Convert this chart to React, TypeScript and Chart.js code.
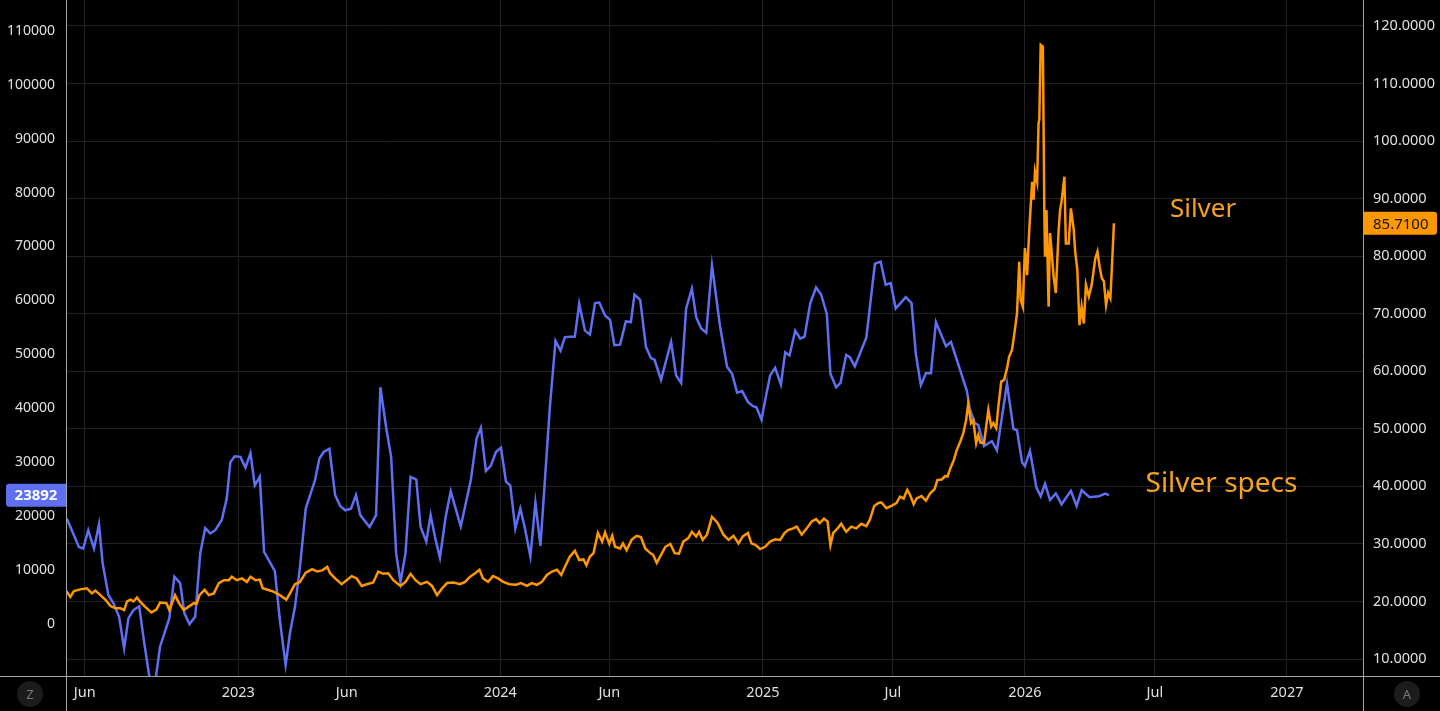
import React, { useEffect, useRef } from 'react';
import { Chart, registerables } from 'chart.js';

Chart.register(...registerables);

// ---- Data ----
const specDates = [
  '2022-05-03','2022-05-08','2022-05-24','2022-05-30','2022-06-06','2022-06-14','2022-06-21','2022-06-26',
  '2022-07-04','2022-07-11','2022-07-19','2022-07-26','2022-08-01','2022-08-08','2022-08-16','2022-08-23',
  '2022-09-04','2022-09-14','2022-09-27','2022-10-04','2022-10-12','2022-10-18','2022-10-25','2022-11-02',
  '2022-11-09','2022-11-16','2022-11-23','2022-11-30','2022-12-09','2022-12-16','2022-12-21','2022-12-27',
  '2023-01-04','2023-01-11','2023-01-18','2023-01-24','2023-01-31','2023-02-06','2023-02-14','2023-02-21',
  '2023-02-28','2023-03-08','2023-03-14','2023-03-21','2023-03-28','2023-04-05','2023-04-18','2023-04-24',
  '2023-04-30','2023-05-08','2023-05-16','2023-05-23','2023-05-30','2023-06-07','2023-06-14','2023-06-20',
  '2023-07-03','2023-07-12','2023-07-18','2023-07-26','2023-08-02','2023-08-09','2023-08-15','2023-08-22',
  '2023-08-29','2023-09-06','2023-09-12','2023-09-20','2023-09-26','2023-10-02','2023-10-09','2023-10-17',
  '2023-10-24','2023-11-07','2023-11-21','2023-11-29','2023-12-05','2023-12-12','2023-12-19','2023-12-26',
  '2024-01-02','2024-01-09','2024-01-15','2024-01-22','2024-01-29','2024-02-04','2024-02-12','2024-02-19',
  '2024-02-26','2024-03-10','2024-03-18','2024-03-25','2024-03-31','2024-04-14','2024-04-20','2024-04-28',
  '2024-05-05','2024-05-12','2024-05-18','2024-05-26','2024-06-02','2024-06-08','2024-06-16','2024-06-24',
  '2024-07-01','2024-07-06','2024-07-14','2024-07-22','2024-07-29','2024-08-03','2024-08-12','2024-08-26',
  '2024-09-02','2024-09-09','2024-09-16','2024-09-24','2024-09-30','2024-10-07','2024-10-14','2024-10-22',
  '2024-11-02','2024-11-12','2024-11-19','2024-11-26','2024-12-03','2024-12-11','2024-12-18','2024-12-23',
  '2024-12-30','2025-01-05','2025-01-11','2025-01-18','2025-01-26','2025-02-01','2025-02-07','2025-02-15',
  '2025-02-22','2025-02-28','2025-03-08','2025-03-16','2025-03-23','2025-03-31','2025-04-05','2025-04-13',
  '2025-04-19','2025-04-27','2025-05-02','2025-05-09','2025-05-25','2025-06-06','2025-06-14','2025-06-21',
  '2025-06-28','2025-07-05','2025-07-19','2025-07-27','2025-08-02','2025-08-09','2025-08-16','2025-08-23',
  '2025-08-30','2025-09-13','2025-09-20','2025-10-12','2025-10-16','2025-10-23','2025-10-28','2025-11-05',
  '2025-11-16','2025-11-23','2025-12-07','2025-12-16','2025-12-21','2025-12-28','2026-01-01','2026-01-08',
  '2026-01-17','2026-01-23','2026-01-29','2026-02-05','2026-02-13','2026-02-21','2026-03-06','2026-03-14',
  '2026-03-21','2026-04-01','2026-04-14','2026-04-23','2026-04-28',
];
const specValues = [
  20000, 19300, 14300, 14000, 17400, 14000, 18500, 11300,
  5400, 3900, 1350, -4500, 1100, 2600, 3300, -3500,
  -14000, -4200, 1100, 8800, 7600, 2000, 0, 1350,
  13100, 17800, 16800, 17400, 19300, 23300, 30000, 31100,
  31000, 29000, 31700, 25700, 27300, 13400, 11500, 9800,
  700, -7600, -1700, 3200, 10600, 21400, 26700, 30700,
  31900, 32500, 23900, 21900, 21100, 21400, 23900, 20200,
  18000, 20200, 43900, 36500, 31000, 13100, 7800, 13100,
  27300, 26800, 18000, 15300, 20200, 16200, 12300, 19900,
  24600, 18100, 26700, 34400, 36400, 28400, 29400, 31900,
  32700, 26400, 25700, 17700, 21400, 18000, 12500, 22500,
  14500, 40000, 52500, 50700, 53200, 53300, 59400, 54400,
  53700, 59500, 59600, 57200, 56400, 51700, 51800, 56100,
  56000, 61100, 60100, 51400, 49300, 49000, 45300, 52300,
  46100, 44700, 58500, 62200, 56900, 54800, 54000, 66500,
  55400, 47700, 46400, 42900, 43200, 41200, 40400, 40200,
  37900, 42100, 46100, 47500, 44400, 50400, 49800, 54400,
  52900, 53300, 59500, 62400, 61100, 57500, 46400, 43900,
  44700, 49900, 49500, 47800, 53100, 66800, 67200, 62900,
  63200, 58500, 60600, 59500, 50100, 44300, 46500, 46500,
  56000, 51500, 52300, 43300, 40000, 37300, 36900, 33000,
  33900, 32200, 44600, 36200, 35900, 30000, 29300, 32100,
  25300, 23700, 26000, 23000, 24200, 22200, 24700, 21900,
  24800, 23500, 23700, 24200, 23892,
];

const silverDates = [
  '2022-05-03','2022-05-07','2022-05-12','2022-05-17','2022-05-26','2022-06-04','2022-06-11','2022-06-16',
  '2022-06-23','2022-06-30','2022-07-07','2022-07-14','2022-07-21','2022-07-26','2022-07-30','2022-08-04',
  '2022-08-08','2022-08-13','2022-08-17','2022-08-24','2022-09-02','2022-09-09','2022-09-14','2022-09-23',
  '2022-09-27','2022-10-05','2022-10-10','2022-10-17','2022-10-24','2022-10-31','2022-11-04','2022-11-08',
  '2022-11-15','2022-11-21','2022-11-28','2022-12-05','2022-12-12','2022-12-19','2022-12-23','2022-12-30',
  '2023-01-06','2023-01-13','2023-01-18','2023-01-25','2023-01-31','2023-02-04','2023-02-12','2023-02-19',
  '2023-02-28','2023-03-09','2023-03-14','2023-03-21','2023-03-28','2023-04-05','2023-04-14','2023-04-21',
  '2023-04-28','2023-05-05','2023-05-09','2023-05-16','2023-05-25','2023-06-01','2023-06-08','2023-06-15',
  '2023-06-22','2023-06-29','2023-07-08','2023-07-15','2023-07-22','2023-07-29','2023-08-05','2023-08-15',
  '2023-08-22','2023-08-29','2023-09-05','2023-09-12','2023-09-21','2023-09-28','2023-10-05','2023-10-12',
  '2023-10-19','2023-10-28','2023-11-06','2023-11-13','2023-11-20','2023-11-27','2023-12-03','2023-12-08',
  '2023-12-15','2023-12-22','2023-12-29','2024-01-05','2024-01-14','2024-01-23','2024-01-30','2024-02-07',
  '2024-02-14','2024-02-21','2024-02-28','2024-03-06','2024-03-13','2024-03-20','2024-03-26','2024-03-31',
  '2024-04-07','2024-04-14','2024-04-20','2024-04-26','2024-04-30','2024-05-05','2024-05-10','2024-05-16',
  '2024-05-22','2024-05-26','2024-06-01','2024-06-05','2024-06-09','2024-06-16','2024-06-20','2024-06-25',
  '2024-07-02','2024-07-09','2024-07-15','2024-07-21','2024-07-28','2024-08-01','2024-08-06','2024-08-12',
  '2024-08-18','2024-08-25','2024-08-31','2024-09-06','2024-09-12','2024-09-19','2024-09-24','2024-09-30',
  '2024-10-04','2024-10-09','2024-10-15','2024-10-22','2024-10-26','2024-10-30','2024-11-07','2024-11-14',
  '2024-11-21','2024-11-28','2024-12-04','2024-12-11','2024-12-16','2024-12-22','2024-12-28','2025-01-04',
  '2025-01-11','2025-01-18','2025-01-25','2025-01-31','2025-02-05','2025-02-12','2025-02-17','2025-02-24',
  '2025-03-03','2025-03-10','2025-03-16','2025-03-21','2025-03-27','2025-04-01','2025-04-05','2025-04-09',
  '2025-04-15','2025-04-20','2025-04-27','2025-05-04','2025-05-11','2025-05-18','2025-05-25','2025-05-30',
  '2025-06-05','2025-06-11','2025-06-15','2025-06-22','2025-06-29','2025-07-06','2025-07-11','2025-07-16',
  '2025-07-21','2025-07-25','2025-07-30','2025-08-03','2025-08-10','2025-08-16','2025-08-22','2025-08-28',
  '2025-09-01','2025-09-07','2025-09-12','2025-09-15','2025-09-19','2025-09-24','2025-09-28','2025-10-03',
  '2025-10-07','2025-10-11','2025-10-14','2025-10-18','2025-10-21','2025-10-25','2025-10-28','2025-10-31',
  '2025-11-05','2025-11-08','2025-11-11','2025-11-15','2025-11-18','2025-11-22','2025-11-25','2025-11-29',
  '2025-12-03','2025-12-07','2025-12-10','2025-12-14','2025-12-17','2025-12-21','2025-12-24','2025-12-26',
  '2025-12-29','2026-01-01','2026-01-04','2026-01-07','2026-01-11','2026-01-13','2026-01-15','2026-01-18',
  '2026-01-20','2026-01-21','2026-01-23','2026-01-26','2026-01-28','2026-01-29','2026-01-31','2026-02-03',
  '2026-02-05','2026-02-07','2026-02-10','2026-02-13','2026-02-17','2026-02-19','2026-02-21','2026-02-25',
  '2026-02-27','2026-03-03','2026-03-06','2026-03-10','2026-03-12','2026-03-15','2026-03-18','2026-03-21',
  '2026-03-24','2026-03-27','2026-03-31','2026-04-04','2026-04-09','2026-04-12','2026-04-15','2026-04-18',
  '2026-04-21','2026-04-24','2026-04-27','2026-04-30','2026-05-02','2026-05-05',
];
const silverValues = [
  22.0, 21.7, 20.8, 21.8, 22.1, 22.3, 21.4, 21.9,
  21.1, 20.3, 19.2, 18.8, 18.8, 18.5, 20.0, 20.3,
  20.0, 20.7, 20.0, 19.1, 18.1, 18.6, 19.8, 19.7,
  18.5, 21.1, 19.8, 18.5, 19.1, 19.7, 19.6, 21.1,
  22.0, 21.1, 21.4, 23.2, 23.7, 23.7, 24.3, 23.7,
  24.0, 23.4, 24.3, 23.7, 23.8, 22.3, 22.0, 21.7,
  21.1, 20.3, 21.4, 23.0, 23.4, 25.0, 25.6, 25.2,
  25.4, 26.0, 24.9, 24.0, 23.0, 23.7, 24.4, 24.0,
  22.7, 23.0, 23.3, 25.2, 24.8, 24.9, 23.7, 22.7,
  23.4, 24.8, 23.7, 23.0, 23.4, 22.7, 21.1, 22.3,
  23.2, 23.3, 23.0, 23.4, 24.3, 24.9, 25.5, 24.0,
  23.4, 24.4, 24.0, 23.4, 23.0, 22.9, 23.2, 22.7,
  23.2, 22.9, 23.4, 24.6, 25.2, 25.5, 24.6, 26.0,
  27.8, 28.8, 27.2, 27.3, 26.3, 27.8, 28.4, 31.9,
  30.4, 32.0, 30.0, 31.4, 29.5, 29.2, 30.1, 28.9,
  30.7, 31.4, 31.2, 29.2, 28.4, 28.1, 26.7, 28.1,
  29.5, 30.0, 28.4, 28.3, 30.4, 31.0, 32.1, 31.3,
  32.1, 30.7, 31.6, 34.7, 34.2, 33.6, 31.6, 30.7,
  31.4, 30.1, 31.3, 31.9, 30.1, 29.8, 29.1, 29.5,
  30.4, 30.8, 30.7, 31.9, 32.4, 32.7, 33.0, 31.6,
  32.7, 33.9, 34.3, 33.6, 34.4, 33.9, 29.8, 31.9,
  32.7, 33.5, 32.1, 33.0, 32.7, 33.5, 33.1, 34.2,
  36.6, 37.1, 37.2, 36.2, 36.6, 37.1, 38.2, 37.9,
  39.4, 38.5, 36.9, 37.9, 38.3, 37.5, 38.8, 39.5,
  41.1, 41.2, 41.8, 41.7, 43.1, 44.6, 46.3, 47.8,
  49.2, 51.5, 54.3, 51.0, 51.5, 47.5, 48.9, 47.6,
  47.5, 50.4, 53.3, 50.4, 51.0, 50.1, 53.9, 58.2,
  58.5, 60.5, 62.5, 63.7, 66.3, 70.1, 79.0, 72.4,
  71.2, 81.4, 76.7, 84.5, 92.9, 89.8, 94.7, 92.9,
  103.1, 103.7, 116.7, 116.4, 88.0, 79.9, 88.0, 71.2,
  84.0, 81.1, 76.4, 73.6, 84.6, 88.0, 89.5, 93.8,
  82.2, 82.2, 88.3, 84.6, 80.8, 77.6, 68.0, 71.2,
  68.3, 75.0, 73.0, 75.0, 79.6, 80.8, 78.2, 76.2,
  75.6, 71.5, 73.6, 72.7, 77.6, 85.71,
];

const xTickDates = ['2022-06-01','2023-01-01','2023-06-01','2024-01-01','2024-06-01','2025-01-01','2025-07-01','2026-01-01','2026-07-01','2027-01-01'];
const xTickLabels = ['Jun','2023','Jun','2024','Jun','2025','Jul','2026','Jul','2027'];
const leftTicks = [0, 10000, 20000, 30000, 40000, 50000, 60000, 70000, 80000, 90000, 100000, 110000];
const rightTicks = [10, 20, 30, 40, 50, 60, 70, 80, 90, 100, 110, 120];

const X_MIN = '2022-05-06';
const X_MAX = '2027-04-17';
const LEFT_MIN = -9630;
const LEFT_MAX = 115700;
const RIGHT_MIN = 7.05;
const RIGHT_MAX = 124.5;

const annotations = [
  { text: 'Silver', date: '2026-07-22', value: 88.0, size: 26 },
  { text: 'Silver specs', date: '2026-06-18', value: 40.4, size: 28 },
];

// ---- Styles ----
const BLUE = '#5f6ff2';
const ORANGE = '#ff9800';
const TEXT_ORANGE = '#f5a21c';
const GRID = '#222222';
const BORDER = '#a6a6a6';
const LABEL = '#e0e0e0';
const FONT = "'Noto Sans', 'Open Sans', sans-serif";

const t = (d: string) => Date.parse(d);

const overlayPlugin = {
  id: 'overlay',
  afterDraw(chart: any) {
    const { ctx, chartArea, scales } = chart;
    const W = chart.width;
    const H = chart.height;
    ctx.save();

    // annotations
    ctx.fillStyle = TEXT_ORANGE;
    ctx.textAlign = 'left';
    ctx.textBaseline = 'middle';
    annotations.forEach((a) => {
      ctx.font = `${a.size}px ${FONT}`;
      ctx.fillText(a.text, scales.x.getPixelForValue(t(a.date)), scales.y1.getPixelForValue(a.value));
    });

    // frame lines
    ctx.strokeStyle = BORDER;
    ctx.lineWidth = 1;
    ctx.beginPath();
    const l = Math.round(chartArea.left) + 0.5;
    const r = Math.round(chartArea.right) + 0.5;
    const b = Math.round(chartArea.bottom) + 0.5;
    ctx.moveTo(l, 0); ctx.lineTo(l, H);
    ctx.moveTo(r, 0); ctx.lineTo(r, H);
    ctx.moveTo(0, b); ctx.lineTo(W, b);
    ctx.stroke();

    // last value of specs (left)
    const lastSpec = specValues[specValues.length - 1];
    const ys = scales.y.getPixelForValue(lastSpec);
    ctx.fillStyle = BLUE;
    ctx.beginPath();
    ctx.roundRect(6, ys - 11.5, chartArea.left - 6, 23, [3, 0, 0, 3]);
    ctx.fill();
    ctx.fillStyle = '#ffffff';
    ctx.font = `bold 15px ${FONT}`;
    ctx.textAlign = 'center';
    ctx.textBaseline = 'middle';
    ctx.fillText(String(lastSpec), (6 + chartArea.left) / 2, ys + 1);

    // last value of silver (right)
    const lastSilver = silverValues[silverValues.length - 1];
    const yp = scales.y1.getPixelForValue(lastSilver);
    ctx.fillStyle = ORANGE;
    ctx.beginPath();
    ctx.roundRect(chartArea.right + 1, yp - 11.5, W - 3 - chartArea.right - 1, 23, [0, 3, 3, 0]);
    ctx.fill();
    ctx.fillStyle = '#141414';
    ctx.font = `15px ${FONT}`;
    ctx.textAlign = 'left';
    ctx.fillText(lastSilver.toFixed(4), chartArea.right + 10, yp + 1);

    // corner buttons
    const yBtn = (chartArea.bottom + H) / 2 + 0.5;
    [[30, 'Z'], [W - 33, 'A']].forEach(([cx, ch]: any) => {
      ctx.fillStyle = '#1c1c1c';
      ctx.beginPath();
      ctx.arc(cx, yBtn, 13, 0, Math.PI * 2);
      ctx.fill();
      ctx.fillStyle = '#7a7a7a';
      ctx.font = `13px ${FONT}`;
      ctx.textAlign = 'center';
      ctx.fillText(ch, cx, yBtn + 1);
    });

    ctx.restore();
  },
};

export default function App() {
  const ref = useRef<HTMLCanvasElement>(null);

  useEffect(() => {
    document.body.style.margin = '0';
    document.body.style.background = '#000';
    const canvas = ref.current;
    if (!canvas) return;

    const chart = new Chart(canvas, {
      type: 'line',
      data: {
        datasets: [
          {
            label: 'Silver',
            data: silverDates.map((d, i) => ({ x: t(d), y: silverValues[i] })),
            yAxisID: 'y1',
            borderColor: ORANGE,
            borderWidth: 2.5,
            pointRadius: 0,
            tension: 0,
          },
          {
            label: 'Silver specs',
            data: specDates.map((d, i) => ({ x: t(d), y: specValues[i] })),
            yAxisID: 'y',
            borderColor: BLUE,
            borderWidth: 2.5,
            pointRadius: 0,
            tension: 0,
          },
        ],
      },
      options: {
        animation: false,
        responsive: false,
        maintainAspectRatio: false,
        layout: { padding: 0 },
        plugins: { legend: { display: false }, tooltip: { enabled: false } },
        scales: {
          x: {
            type: 'linear',
            min: t(X_MIN),
            max: t(X_MAX),
            afterBuildTicks: (s: any) => { s.ticks = xTickDates.map((d) => ({ value: t(d) })); },
            afterFit: (s: any) => { s.height = 35; s.paddingLeft = 0; s.paddingRight = 0; },
            grid: { display: true, color: GRID, drawTicks: false },
            border: { display: false },
            ticks: {
              autoSkip: false,
              maxRotation: 0,
              padding: 8,
              color: LABEL,
              font: { family: FONT, size: 14.5 },
              callback: (_v: any, i: number) => xTickLabels[i],
            },
          },
          y: {
            type: 'linear',
            position: 'left',
            min: LEFT_MIN,
            max: LEFT_MAX,
            afterBuildTicks: (s: any) => { s.ticks = leftTicks.map((v) => ({ value: v })); },
            afterFit: (s: any) => { s.width = 66; s.paddingTop = 0; s.paddingBottom = 0; },
            grid: { display: false, drawTicks: false },
            border: { display: false },
            ticks: {
              autoSkip: false,
              padding: 11,
              color: LABEL,
              font: { family: FONT, size: 14 },
              callback: (v: any) => String(v),
            },
          },
          y1: {
            type: 'linear',
            position: 'right',
            min: RIGHT_MIN,
            max: RIGHT_MAX,
            afterBuildTicks: (s: any) => { s.ticks = rightTicks.map((v) => ({ value: v })); },
            afterFit: (s: any) => { s.width = 77; s.paddingTop = 0; s.paddingBottom = 0; },
            grid: { display: true, color: GRID, drawTicks: false },
            border: { display: false },
            ticks: {
              autoSkip: false,
              padding: 10,
              color: LABEL,
              font: { family: FONT, size: 14.5 },
              callback: (v: any) => Number(v).toFixed(4),
            },
          },
        },
      },
      plugins: [overlayPlugin],
    } as any);

    return () => chart.destroy();
  }, []);

  return (
    <div style={{ width: 1440, height: 711, background: '#000' }}>
      <canvas ref={ref} width={1440} height={711} style={{ display: 'block', width: 1440, height: 711 }} />
    </div>
  );
}
